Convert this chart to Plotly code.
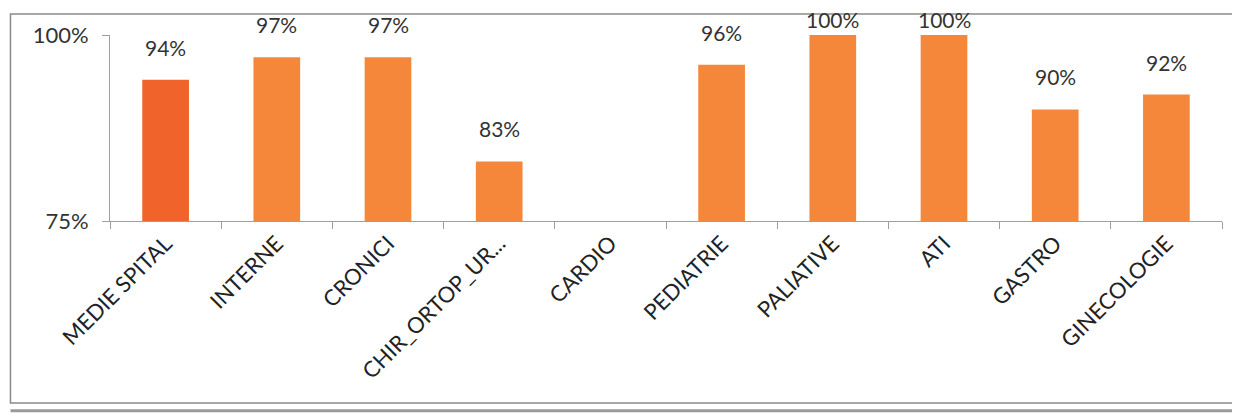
import plotly.graph_objects as go

categories = ["MEDIE SPITAL", "INTERNE", "CRONICI", "CHIR_ORTOP_UR...", "CARDIO",
              "PEDIATRIE", "PALIATIVE", "ATI", "GASTRO", "GINECOLOGIE"]
values = [94, 97, 97, 83, None, 96, 100, 100, 90, 92]
labels = ["94%", "97%", "97%", "83%", "", "96%", "100%", "100%", "90%", "92%"]
bar_colors = ["#F0642C"] + ["#F5873A"] * 9

FONT = "Lato"

fig = go.Figure(go.Bar(
    x=categories, y=values,
    marker=dict(color=bar_colors, line=dict(width=0)),
    width=0.42, hoverinfo="x+y",
))

# data labels placed above bars (squeezed near the top of the plot area, as in the reference)
annotations = []
for c, v, t in zip(categories, values, labels):
    if v is None:
        continue
    annotations.append(dict(
        x=c, y=v, xref="x", yref="y", text=t, showarrow=False,
        yanchor="bottom", yshift=18 if v < 99 else 1,
        font=dict(family=FONT, size=21, color="#333333"),
    ))

fig.update_layout(
    width=1240, height=416,
    margin=dict(l=102, r=26, t=27, b=203),
    paper_bgcolor="white", plot_bgcolor="white",
    showlegend=False,
    font=dict(family=FONT, color="#333333"),
    annotations=annotations,
    shapes=[
        dict(type="rect", xref="paper", yref="paper", x0=-0.0895, x1=1.04, y0=-0.978, y1=1.113,
             line=dict(color="#8a8a8a", width=1.5), fillcolor="rgba(0,0,0,0)", layer="below"),
        dict(type="line", xref="paper", yref="paper", x0=-0.0895, x1=1.04, y0=-1.02, y1=-1.02,
             line=dict(color="#9a9a9a", width=3)),
    ],
)
fig.update_xaxes(
    type="category", tickangle=-45, showline=True, linecolor="#9aa0a6", linewidth=1,
    ticks="outside", tickson="boundaries", ticklen=7, tickcolor="#9aa0a6",
    tickfont=dict(family=FONT, size=22, color="#222222"), showgrid=False,
    automargin=False,
)
fig.update_yaxes(
    range=[75, 100], tickvals=[75, 100], ticktext=["75%", "100%"],
    showline=True, linecolor="#9aa0a6", linewidth=1, ticks="outside", ticklen=7,
    tickcolor="#9aa0a6", tickfont=dict(family=FONT, size=22, color="#333333"),
    ticklabelstandoff=9,
    showgrid=False, zeroline=False, automargin=False,
)

fig.write_html("out.html")
